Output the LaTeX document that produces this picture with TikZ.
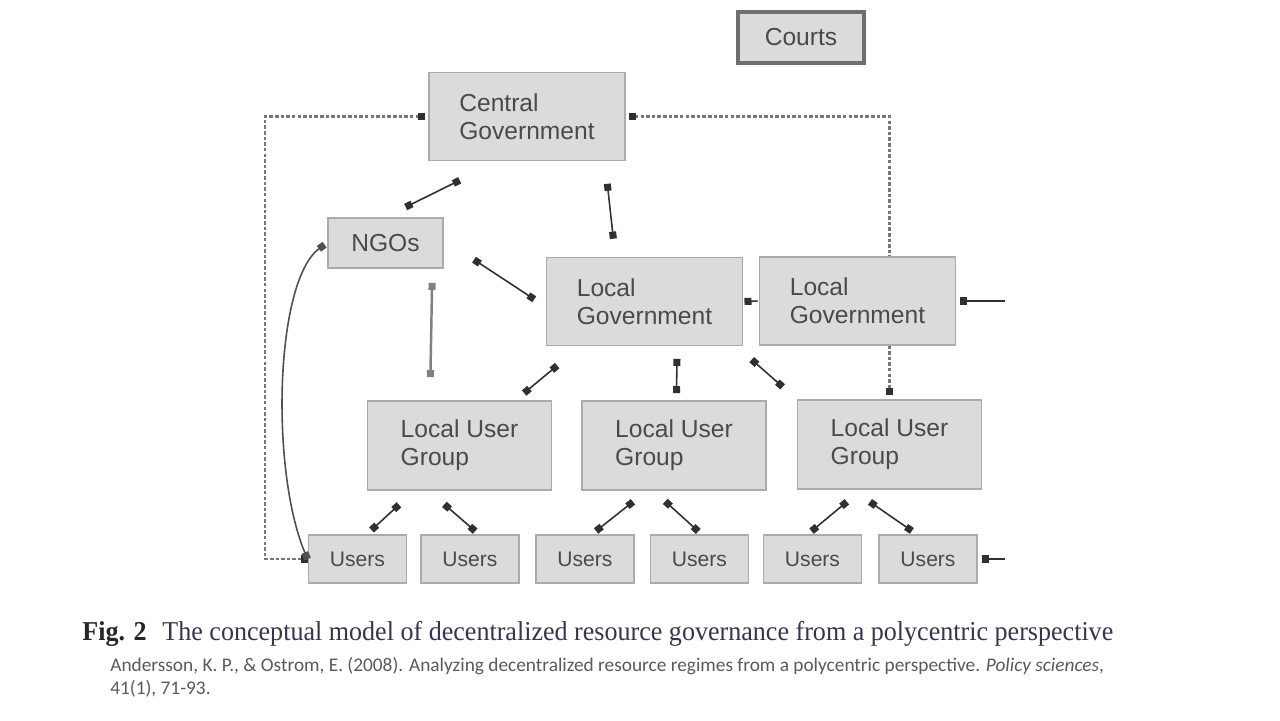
\documentclass[tikz,border=0pt]{standalone}
\usepackage{fontspec}
\usepackage{graphicx}
\setmainfont{Liberation Serif}
\setsansfont{Liberation Sans}
\newfontfamily\citefont{Carlito}
\usetikzlibrary{arrows.meta,backgrounds}

\definecolor{boxfill}{HTML}{DBDBDB}
\definecolor{boxline}{HTML}{ABABAB}
\definecolor{courtline}{HTML}{6E6E6E}
\definecolor{boxtext}{HTML}{4A4A4A}
\definecolor{linkcol}{HTML}{303030}
\definecolor{railcol}{HTML}{777777}
\definecolor{captext}{HTML}{35354F}
\definecolor{citetext}{HTML}{5A5A5A}

\tikzset{
    sq/.tip={Square[length=4pt,width=4pt]},
    dsq/.tip={Square[length=4pt,width=4pt,color=linkcol]},
    govbox/.style={draw=boxline, fill=boxfill, line width=1.1pt, text=boxtext,
        font=\sffamily\fontsize{14}{16}\selectfont, align=left, inner sep=0pt,
        minimum width=3.92cm, minimum height=1.76cm},
    groupbox/.style={govbox, minimum width=3.68cm, minimum height=1.78cm},
    userbox/.style={govbox, font=\sffamily\fontsize{12}{14}\selectfont,
        minimum width=1.96cm, minimum height=0.96cm},
    link/.style={sq-sq, draw=linkcol, line width=0.9pt},
    inlink/.style={-sq, draw=linkcol, line width=0.9pt},
    rail/.style={dsq-dsq, draw=railcol, line width=1.2pt, dash pattern=on 2pt off 1.2pt},
}

\begin{document}
\begin{tikzpicture}[x=0.02cm, y=-0.02cm]
    \useasboundingbox (0,0) rectangle (1280,720);
    % governments
    \node[govbox, draw=courtline, line width=2pt, minimum width=2.52cm, minimum height=1.02cm] (courts) at (801,37.5) {Courts};
    \node[govbox] (cg) at (527,116.5) {Central\\Government};
    \node[govbox, minimum width=2.3cm, minimum height=1cm] (ngo) at (385.5,243) {NGOs};
    \node[govbox] (lg1) at (644.5,301.5) {Local\\Government};
    \node[govbox] (lg2) at (857.5,301) {Local\\Government};
    % user groups
    \node[groupbox] (lug1) at (459.5,445.5) {Local User\\Group};
    \node[groupbox] (lug2) at (674,445.5) {Local User\\Group};
    \node[groupbox] (lug3) at (889.5,444.5) {Local User\\Group};
    \foreach \i/\x in {1/357.5, 2/470, 3/585, 4/699.5, 5/812.5, 6/928}
        \node[userbox] (u\i) at (\x,559) {Users};
    \coordinate (lrail) at (265,300);
    \coordinate (lg2in) at (1005,301);
    \coordinate (u6in) at (1005,559);

    % dotted rails
    \begin{scope}[on background layer]
        \draw[rail, shorten <=0.06cm] (cg.west) -| (lrail) |- (u1.west);
        \draw[rail, shorten <=0.06cm, shorten >=0.08cm] (cg.east) -| (lug3.north);
    \end{scope}

    % links
    \draw[link, shorten <=0.85cm, shorten >=0.45cm] (cg.237) -- (ngo.north);
    \draw[link, shorten <=0.45cm, shorten >=0.36cm] (cg.330) -- (lg1.123);
    \draw[link, shorten <=0.72cm, shorten >=0.27cm] (ngo.3) -- (lg1.183);
    \draw[link, draw=gray, line width=1.4pt, shorten <=0.28cm, shorten >=0.46cm] (ngo.331) -- (lug1.123);
    \draw[inlink, shorten <=0.02cm, shorten >=0.02cm] (lg2.west) -- (lg1.east);
    \draw[inlink, shorten >=0.08cm] (lg2in) -- (lg2.east);
    \draw[link, shorten <=0.6cm, shorten >=0.22cm] (lg1.215) -- (lug1.39);
    \draw[link, shorten <=0.25cm, shorten >=0.14cm] (lg1.306) -- (lug2.87);
    \draw[link, shorten <=0.4cm, shorten >=0.37cm] (lg1.334) -- (lug3.north west);
    \draw[link, shorten <=0.41cm, shorten >=0.12cm] (lug1.225) -- (u1.69);
    \draw[link, shorten <=0.41cm, shorten >=0.09cm] (lug1.236) -- (u2.71);
    \draw[link, shorten <=0.35cm, shorten >=0.1cm] (lug2.239) -- (u3.74);
    \draw[link, shorten <=0.31cm, shorten >=0.08cm] (lug2.246) -- (u4.86);
    \draw[link, shorten <=0.37cm, shorten >=0.09cm] (lug3.238) -- (u5.100);
    \draw[link, shorten <=0.42cm, shorten >=0.11cm] (lug3.231) -- (u6.115);
    \draw[inlink, shorten >=0.08cm] (u6in) -- (u6.east);
    \draw[link, draw=linkcol!85, shorten <=0.06cm] (ngo.west) .. controls (275,280) and (270,470) .. (u1.west);

    % caption
    \node[anchor=base west, inner sep=0pt, text=captext, font=\fontsize{15.5}{18}\selectfont] (cap) at (82,640)
        {\resizebox{20.62cm}{\height}{\textbf{\color{black!85}Fig. 2}\hspace{0.6em}The conceptual model of decentralized resource governance from a polycentric perspective}};
    \node[anchor=base west, inner sep=0pt, text=citetext, font=\citefont\fontsize{11}{13}\selectfont] (cite1) at (110,671)
        {Andersson, K. P., \& Ostrom, E. (2008). Analyzing decentralized resource regimes from a polycentric perspective. \textit{Policy sciences},};
    \node[anchor=base west, inner sep=0pt, text=citetext, font=\citefont\fontsize{11}{13}\selectfont] (cite2) at (110,694)
        {41(1), 71-93.};
\end{tikzpicture}
\end{document}
